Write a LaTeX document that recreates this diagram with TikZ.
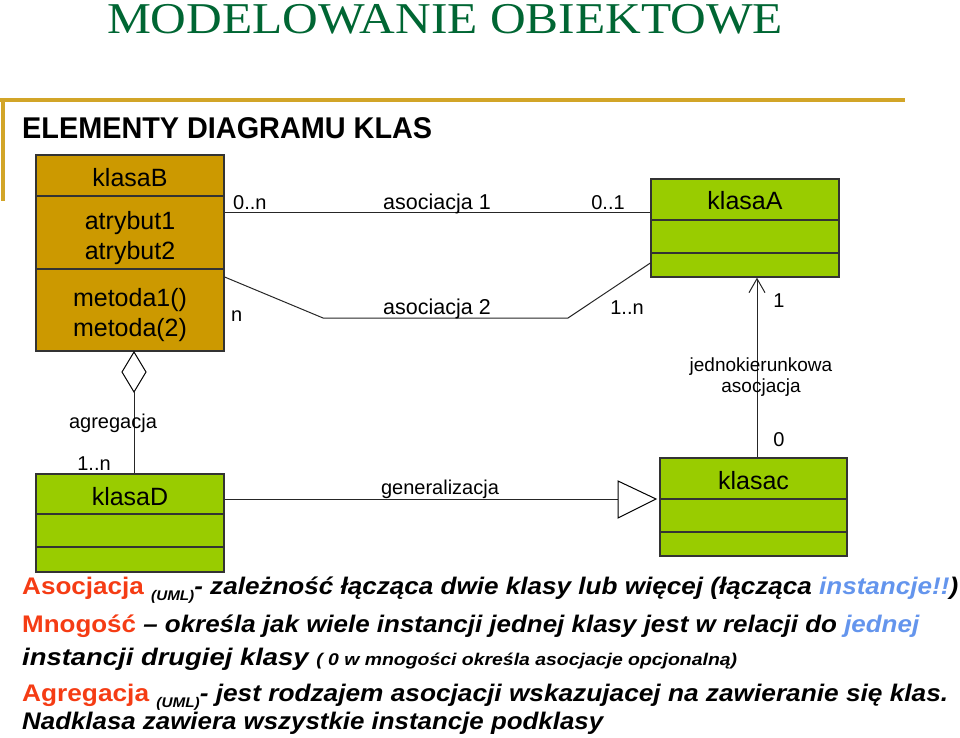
\documentclass[tikz,border=0pt]{standalone}
\usepackage{fontspec}
\usepackage{graphicx}
\setmainfont{Liberation Sans}
\newfontfamily\titlefont{Liberation Serif}
\usetikzlibrary{arrows.meta}
\definecolor{goldfill}{RGB}{204,153,0}
\definecolor{greenfill}{RGB}{153,204,0}
\definecolor{rulegold}{RGB}{210,165,40}
\definecolor{titlegreen}{RGB}{0,102,51}
\definecolor{redword}{RGB}{245,60,20}
\definecolor{blueword}{RGB}{100,149,237}
\begin{document}
\begin{tikzpicture}[x=1pt,y=-1pt,
  klasa/.style={draw=black!80,line width=1.3pt,rectangle,inner sep=0pt},
  sep/.style={draw=black!80,line width=1.3pt},
  conn/.style={draw=black!85,line width=1pt},
  cname/.style={inner sep=0pt,anchor=base,font=\fontsize{25}{30}\selectfont},
  lbl/.style={inner sep=0pt,anchor=base,font=\fontsize{20}{24}\selectfont},
  body/.style={inner sep=0pt,anchor=base west,font=\fontsize{24}{28}\selectfont}]
\useasboundingbox (0,0) rectangle (960,738);
% title
\node[inner sep=0pt,anchor=base,text=titlegreen] (title) at (445,34)
  {\resizebox{676pt}{\height}{\titlefont\fontsize{44}{48}\selectfont MODELOWANIE OBIEKTOWE}};
% gold rule
\draw[rulegold,line width=3.5pt] (0,100) -- (905,100);
\draw[rulegold,line width=4pt] (3,100) -- (3,201);
\node[inner sep=0pt,anchor=base west] (head) at (22,139)
  {\resizebox{410pt}{\height}{\fontsize{30}{34}\selectfont\bfseries ELEMENTY DIAGRAMU KLAS}};
% classes
\node[klasa,fill=goldfill,minimum width=188pt,minimum height=196pt] (B) at (130,253) {};
\draw[sep] (B.west |- 0,196) -- (B.east |- 0,196);
\draw[sep] (B.west |- 0,269) -- (B.east |- 0,269);
\node[cname] (Bn) at (130,186) {klasaB};
\node[cname] (Ba1) at (130,229) {atrybut1};
\node[cname] (Ba2) at (130,259) {atrybut2};
\node[cname] (Bm1) at (130,306) {metoda1()};
\node[cname] (Bm2) at (130,336) {metoda(2)};

\node[klasa,fill=greenfill,minimum width=188pt,minimum height=98pt] (A) at (745,228) {};
\draw[sep] (A.west |- 0,220) -- (A.east |- 0,220);
\draw[sep] (A.west |- 0,253) -- (A.east |- 0,253);
\node[cname] (An) at (745,209) {klasaA};

\node[klasa,fill=greenfill,minimum width=187pt,minimum height=98pt] (C) at (753.5,507) {};
\draw[sep] (C.west |- 0,499) -- (C.east |- 0,499);
\draw[sep] (C.west |- 0,532) -- (C.east |- 0,532);
\node[cname] (Cn) at (753.5,489) {klasac};

\node[klasa,fill=greenfill,minimum width=188pt,minimum height=98pt] (D) at (130,523) {};
\draw[sep] (D.west |- 0,514) -- (D.east |- 0,514);
\draw[sep] (D.west |- 0,547) -- (D.east |- 0,547);
\node[cname] (Dn) at (130,505) {klasaD};

% asociacja 1
\draw[conn] (B.east |- 0,212) -- (A.west |- 0,212);
\node[lbl,anchor=base west] (m1) at (233,209) {0..n};
\node[lbl,font=\fontsize{21.5}{24}\selectfont] (as1) at (437,209) {asociacja 1};
\node[lbl] (m2) at (608,209) {0..1};
% asociacja 2
\coordinate (k1) at (323,318);
\coordinate (k2) at (568,318);
\draw[conn] (B.east |- 0,277) -- (k1) -- (k2) -- (A.west |- 0,263);
\node[lbl,anchor=base west] (m3) at (231,321) {n};
\node[lbl,font=\fontsize{21.5}{24}\selectfont] (as2) at (437,314) {asociacja 2};
\node[lbl] (m4) at (627,314) {1..n};
% jednokierunkowa
\draw[conn,-{Straight Barb[length=14pt,width=16pt,line width=1pt]}] (C.north -| 757,0) -- (A.south -| 757,0);
\node[lbl] (m5) at (779,307) {1};
\node[lbl,font=\fontsize{19}{22}\selectfont] (j1) at (761,371) {jednokierunkowa};
\node[lbl,font=\fontsize{19}{22}\selectfont] (j2) at (761,392) {asocjacja};
\node[lbl] (m6) at (779,446) {0};
% agregacja
\coordinate (dtop) at (134,352);
\coordinate (dbot) at (134,392);
\draw[line width=1pt,fill=white] (dtop) -- (146,372) -- (dbot) -- (122,372) -- cycle;
\draw[conn] (dbot) -- (D.north -| dbot);
\node[lbl] (ag) at (113,428) {agregacja};
\node[lbl] (m7) at (94,470) {1..n};
% generalizacja
\coordinate (tb) at (618,499);
\draw[conn] (D.east |- tb) -- (tb);
\draw[line width=1pt,fill=white] (618,481) -- (656,499) -- (618,518) -- cycle;
\node[lbl] (gen) at (440,494) {generalizacja};
% bottom text
\newcommand{\umlsub}{{\fontsize{14}{14}\selectfont\bfseries\itshape\raisebox{-6pt}{(UML)}}}
\node[body] (t1) at (22,594) {\resizebox{936pt}{\height}{{\color{redword}\bfseries Asocjacja} \umlsub{\bfseries\itshape - zależność łącząca dwie klasy lub więcej (łącząca {\color{blueword}instancje!!})}}};
\node[body] (t2) at (22,632) {\resizebox{897pt}{\height}{{\color{redword}\bfseries Mnogość} {\bfseries\itshape – określa jak wiele instancji jednej klasy jest w relacji do {\color{blueword}jednej}}}};
\node[body] (t3) at (22,665) {\resizebox{715pt}{\height}{{\bfseries\itshape instancji drugiej klasy }{\fontsize{17}{20}\selectfont\bfseries\itshape ( 0 w mnogości określa asocjacje opcjonalną)}}};
\node[body] (t4) at (22,701) {\resizebox{926pt}{\height}{{\color{redword}\bfseries Agregacja} \umlsub{\bfseries\itshape - jest rodzajem asocjacji wskazujacej na zawieranie się klas.}}};
\node[body] (t5) at (22,729) {\resizebox{581pt}{\height}{\bfseries\itshape Nadklasa zawiera wszystkie instancje podklasy}};
\end{tikzpicture}
\end{document}
